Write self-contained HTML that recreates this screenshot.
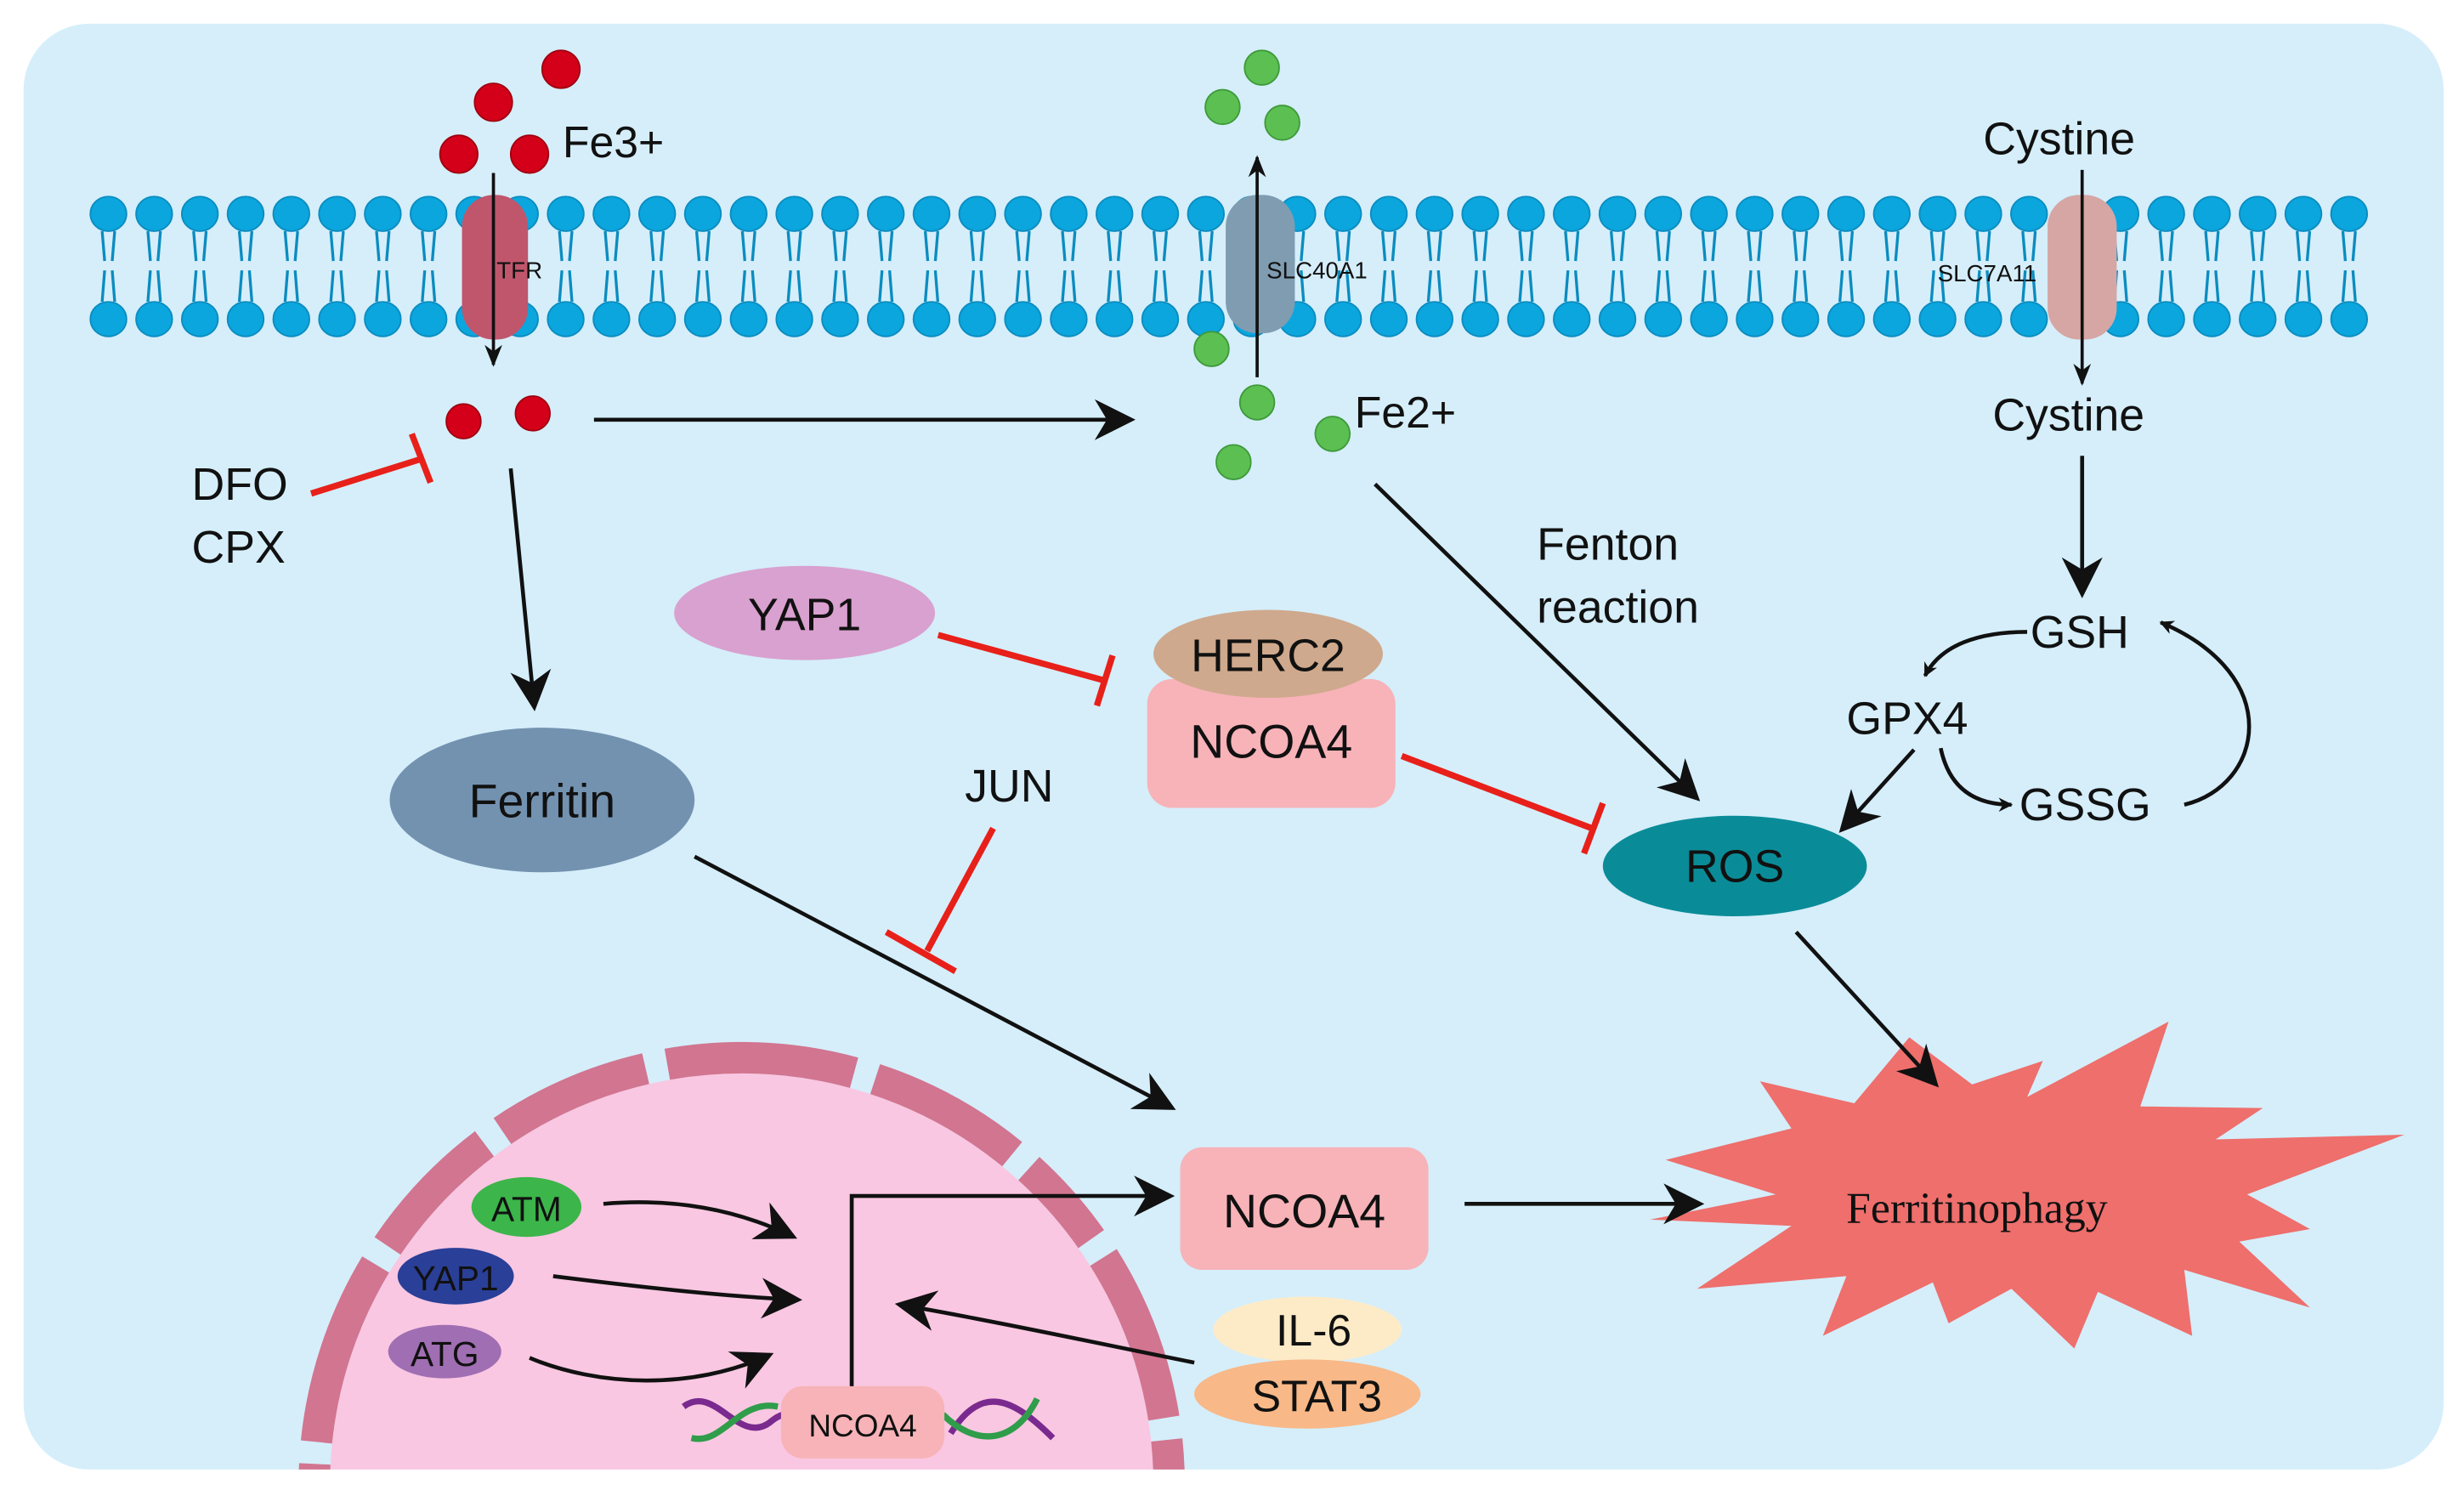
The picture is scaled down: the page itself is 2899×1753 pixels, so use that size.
<!DOCTYPE html>
<html><head><meta charset="utf-8"><style>
html,body{margin:0;padding:0;background:#fff;width:2899px;height:1753px;overflow:hidden;}
svg{display:block;}
text{font-family:"Liberation Sans",sans-serif;fill:#111;}
</style></head><body>
<svg width="2899" height="1753" viewBox="0 0 1568 948" xmlns="http://www.w3.org/2000/svg">
<defs>
<marker id="ah" viewBox="0 0 20 20" refX="18" refY="10" markerWidth="9" markerHeight="9" orient="auto" markerUnits="userSpaceOnUse">
<path d="M0,0 L20,10 L0,20 L6,10 Z" fill="#111"/></marker>
<marker id="ahs" viewBox="0 0 20 20" refX="18" refY="10" markerWidth="14" markerHeight="14" orient="auto" markerUnits="userSpaceOnUse">
<path d="M0,2 L20,10 L0,18 L6,10 Z" fill="#111"/></marker>
<marker id="ahL" viewBox="0 0 20 20" refX="18" refY="10" markerWidth="26" markerHeight="26" orient="auto" markerUnits="userSpaceOnUse">
<path d="M0,0 L20,10 L0,20 L6,10 Z" fill="#111"/></marker>
<clipPath id="box"><rect x="15" y="15" width="1540" height="920" rx="42"/></clipPath>
</defs>
<rect x="15" y="15" width="1540" height="920" rx="42" fill="#d5eefa"/>

<g clip-path="url(#box)">
<circle cx="472" cy="945" r="262" fill="#f9c7e2"/>
<circle cx="472" cy="945" r="272" fill="none" stroke="#d27590" stroke-width="20" stroke-dasharray="110 14 120 14 90 14 100 14 120 14 100 14 60 14" stroke-dashoffset="40"/>
</g>

<g id="lipids"></g>

<!-- star (behind arrows) -->
<polygon fill="#ee6f6c" points="1060,738 1140,718 1120,688 1180,702 1215,660 1255,690 1300,675 1290,698 1380,650 1362,704 1440,705 1410,725 1530,722 1430,760 1470,782 1425,790 1470,832 1390,808 1395,850 1335,822 1320,858 1280,820 1240,842 1230,816 1160,850 1175,812 1080,820 1140,780 1050,776 1130,760"/>
<text x="1258" y="778" font-size="28" text-anchor="middle" style="font-family:'Liberation Serif',serif">Ferritinophagy</text>

<!-- proteins -->
<rect x="294" y="124" width="42" height="92" rx="20" fill="#c0566c"/>
<rect x="780" y="124" width="44" height="88" rx="20" fill="#7f9cb1"/>
<rect x="1303" y="124" width="44" height="92" rx="20" fill="#d6a6a4"/>
<text x="316" y="177" font-size="15">TFR</text>
<text x="806" y="177" font-size="15">SLC40A1</text>
<text x="1233" y="179" font-size="15">SLC7A11</text>

<g fill="#d4001a" stroke="#a0000f" stroke-width="1">
<circle cx="357" cy="44" r="12"/><circle cx="314" cy="65" r="12"/><circle cx="292" cy="98" r="12"/><circle cx="337" cy="98" r="12"/>
<circle cx="295" cy="268" r="11"/><circle cx="339" cy="263" r="11"/>
</g>
<text x="358" y="100" font-size="28">Fe3+</text>
<line x1="314" y1="110" x2="314" y2="232" stroke="#111" stroke-width="2" marker-end="url(#ahs)"/>

<g fill="#5cbf52" stroke="#3e9a3a" stroke-width="1">
<circle cx="803" cy="43" r="11"/><circle cx="778" cy="68" r="11"/><circle cx="816" cy="78" r="11"/>
<circle cx="771" cy="222" r="11"/><circle cx="800" cy="256" r="11"/><circle cx="785" cy="294" r="11"/><circle cx="848" cy="276" r="11"/>
</g>
<line x1="800" y1="240" x2="800" y2="100" stroke="#111" stroke-width="2" marker-end="url(#ahs)"/>
<text x="862" y="272" font-size="28">Fe2+</text>

<text x="1262" y="98" font-size="29">Cystine</text>
<line x1="1325" y1="108" x2="1325" y2="244" stroke="#111" stroke-width="2" marker-end="url(#ahs)"/>
<text x="1268" y="274" font-size="29">Cystine</text>
<line x1="1325" y1="290" x2="1325" y2="378" stroke="#111" stroke-width="2.5" marker-end="url(#ahL)"/>
<text x="1292" y="412" font-size="29">GSH</text>
<path d="M1290,402 C1260,402 1235,410 1225,430" fill="none" stroke="#111" stroke-width="2.5" marker-end="url(#ah)"/>
<text x="1175" y="467" font-size="29">GPX4</text>
<path d="M1235,476 C1240,500 1255,512 1280,512" fill="none" stroke="#111" stroke-width="2.5" marker-end="url(#ah)"/>
<text x="1285" y="522" font-size="29">GSSG</text>
<path d="M1390,512 C1440,500 1455,430 1375,396" fill="none" stroke="#111" stroke-width="2.5" marker-end="url(#ah)"/>
<line x1="1218" y1="477" x2="1172" y2="528" stroke="#111" stroke-width="2.5" marker-end="url(#ahL)"/>

<text x="978" y="356" font-size="29">Fenton</text>
<text x="978" y="396" font-size="29">reaction</text>
<line x1="875" y1="308" x2="1080" y2="508" stroke="#111" stroke-width="2.5" marker-end="url(#ahL)"/>

<ellipse cx="1104" cy="551" rx="84" ry="32" fill="#0a8c98"/>
<text x="1104" y="561" font-size="29" text-anchor="middle">ROS</text>
<line x1="1143" y1="593" x2="1232" y2="690" stroke="#111" stroke-width="2.5" marker-end="url(#ahL)"/>

<line x1="378" y1="267" x2="720" y2="267" stroke="#111" stroke-width="2.5" marker-end="url(#ahL)"/>

<text x="122" y="318" font-size="29">DFO</text>
<text x="122" y="358" font-size="29">CPX</text>
<line x1="198" y1="314" x2="268" y2="292" stroke="#e8201a" stroke-width="4"/>
<line x1="262" y1="276" x2="274" y2="307" stroke="#e8201a" stroke-width="4"/>

<line x1="325" y1="298" x2="340" y2="450" stroke="#111" stroke-width="2.5" marker-end="url(#ahL)"/>
<ellipse cx="345" cy="509" rx="97" ry="46" fill="#7392b0"/>
<text x="345" y="520" font-size="30" text-anchor="middle">Ferritin</text>
<line x1="442" y1="545" x2="746" y2="705" stroke="#111" stroke-width="2.5" marker-end="url(#ahL)"/>

<ellipse cx="512" cy="390" rx="83" ry="30" fill="#d9a1cf"/>
<text x="512" y="401" font-size="29" text-anchor="middle">YAP1</text>
<line x1="597" y1="404" x2="703" y2="433" stroke="#e8201a" stroke-width="4"/>
<line x1="698" y1="449" x2="708" y2="417" stroke="#e8201a" stroke-width="4"/>

<rect x="730" y="432" width="158" height="82" rx="16" fill="#f7b3b8"/>
<ellipse cx="807" cy="416" rx="73" ry="28" fill="#cfa98d"/>
<text x="807" y="427" font-size="29" text-anchor="middle">HERC2</text>
<text x="809" y="482" font-size="30" text-anchor="middle">NCOA4</text>
<line x1="892" y1="481" x2="1013" y2="527" stroke="#e8201a" stroke-width="4"/>
<line x1="1008" y1="543" x2="1020" y2="511" stroke="#e8201a" stroke-width="4"/>

<text x="614" y="510" font-size="29">JUN</text>
<line x1="632" y1="527" x2="590" y2="605" stroke="#e8201a" stroke-width="4"/>
<line x1="564" y1="593" x2="608" y2="618" stroke="#e8201a" stroke-width="4"/>

<rect x="751" y="730" width="158" height="78" rx="14" fill="#f7b3b8"/>
<text x="830" y="781" font-size="30" text-anchor="middle">NCOA4</text>
<line x1="932" y1="766" x2="1082" y2="766" stroke="#111" stroke-width="2.5" marker-end="url(#ahL)"/>

<ellipse cx="832" cy="846" rx="60" ry="21" fill="#fdebc8"/>
<text x="836" y="856" font-size="28" text-anchor="middle">IL-6</text>
<ellipse cx="832" cy="887" rx="72" ry="22" fill="#f8b888"/>
<text x="838" y="898" font-size="28" text-anchor="middle">STAT3</text>
<path d="M760,867 C700,855 630,840 572,830" fill="none" stroke="#111" stroke-width="2.5" marker-end="url(#ahL)"/>

<ellipse cx="335" cy="768" rx="35" ry="19" fill="#3cb54a"/>
<text x="335" y="777" font-size="22" text-anchor="middle">ATM</text>
<ellipse cx="290" cy="812" rx="37" ry="18" fill="#2a3f97"/>
<text x="290" y="821" font-size="22" text-anchor="middle">YAP1</text>
<ellipse cx="283" cy="860" rx="36" ry="17" fill="#a06eb2"/>
<text x="283" y="869" font-size="22" text-anchor="middle">ATG</text>
<path d="M384,766 C430,762 470,770 505,787" fill="none" stroke="#111" stroke-width="2.5" marker-end="url(#ahL)"/>
<path d="M352,812 C400,818 460,825 508,827" fill="none" stroke="#111" stroke-width="2.5" marker-end="url(#ahL)"/>
<path d="M337,864 C380,882 440,885 490,862" fill="none" stroke="#111" stroke-width="2.5" marker-end="url(#ahL)"/>
<path d="M542,885 L542,761 L745,761" fill="none" stroke="#111" stroke-width="2.5" marker-end="url(#ahL)"/>
<path d="M435,895 C455,880 470,920 490,905 C505,892 515,905 520,912" fill="none" stroke="#7a2a8e" stroke-width="4"/>
<path d="M440,915 C460,920 470,890 495,895" fill="none" stroke="#2f9d4a" stroke-width="4"/>
<path d="M605,912 C625,880 645,890 670,915" fill="none" stroke="#7a2a8e" stroke-width="4"/>
<path d="M600,900 C620,920 645,920 660,890" fill="none" stroke="#2f9d4a" stroke-width="4"/>
<rect x="497" y="882" width="104" height="46" rx="14" fill="#f7b3b8"/>
<text x="549" y="914" font-size="20" text-anchor="middle">NCOA4</text>
</svg>
<script>
(function(){
var ns="http://www.w3.org/2000/svg",g=document.getElementById("lipids");
for(var x=69;x<=1495;x+=29.1){
 [136,203].forEach(function(y){var e=document.createElementNS(ns,"ellipse");e.setAttribute("cx",x);e.setAttribute("cy",y);e.setAttribute("rx",11.5);e.setAttribute("ry",11);e.setAttribute("fill","#0aa6dd");e.setAttribute("stroke","#0b8cc0");g.appendChild(e);});
 [-4,4].forEach(function(d){var l=document.createElementNS(ns,"path");l.setAttribute("d","M"+(x+d)+",147 L"+(x+d*0.6)+",166 M"+(x+d*0.6)+",172 L"+(x+d)+",192");l.setAttribute("stroke","#0b8cc0");l.setAttribute("stroke-width","1.8");l.setAttribute("fill","none");g.appendChild(l);});
}
})();
</script>
</body></html>
